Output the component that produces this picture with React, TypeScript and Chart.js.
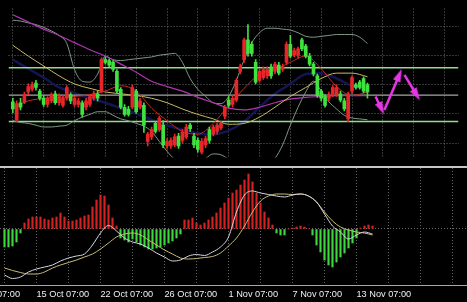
import React, { useEffect, useRef } from 'react';
import { Chart, registerables } from 'chart.js';

Chart.register(...registerables);

// ---------------- data (one candle per 4-px slot) ----------------
const candleOpen = [
  63, 43, 62, 63, 74, 77, 84, 75, 67, 60,
  64, 72, 62, 59, 67, 71, 60, 60, 62, 57,
  60, 67, 72, 75, 110, 109, 107, 97, 77, 57,
  55, 57, 75, 57, 59, 19, 24, 39, 32, 37,
  14, 14, 15, 25, 20, 24, 37, 25, 20, 7,
  15, 32, 27, 30, 34, 47, 65, 60, 65, 97,
  110, 132, 127, 107, 87, 90, 92, 102, 97, 104,
  99, 107, 127, 115, 115, 132, 125, 114, 105, 92,
  75, 69, 67, 72, 71, 72, 64, 44, 75, 82,
  85, 89, 82,
];
const candleHigh = [
  67, 64, 67, 74, 83, 85, 87, 77, 70, 69,
  73, 75, 72, 70, 81, 73, 69, 67, 64, 67,
  71, 75, 75, 112, 113, 111, 109, 99, 79, 60,
  58, 82, 77, 67, 62, 29, 35, 41, 47, 42,
  22, 23, 27, 28, 32, 38, 39, 28, 23, 22,
  25, 35, 37, 39, 41, 59, 69, 70, 89, 105,
  134, 149, 130, 110, 100, 102, 102, 105, 107, 107,
  105, 130, 137, 123, 124, 134, 127, 117, 107, 94,
  77, 71, 74, 81, 82, 75, 67, 74, 92, 84,
  87, 91, 84,
];
const candleLow = [
  51, 41, 54, 61, 71, 75, 76, 65, 58, 57,
  62, 60, 59, 57, 65, 61, 58, 57, 46, 54,
  58, 65, 64, 73, 105, 102, 97, 73, 55, 47,
  47, 55, 50, 55, 29, 14, 21, 28, 30, 12,
  11, 11, 13, 11, 17, 22, 30, 12, 7, 5,
  12, 17, 25, 27, 32, 44, 57, 57, 63, 94,
  107, 114, 114, 83, 85, 88, 89, 89, 94, 93,
  97, 105, 112, 113, 112, 120, 112, 103, 92, 68,
  64, 57, 64, 69, 69, 63, 53, 41, 72, 77,
  77, 73, 67,
];
const candleClose = [
  55, 61, 57, 71, 80, 82, 79, 67, 60, 67,
  71, 62, 69, 67, 79, 64, 67, 64, 49, 64,
  69, 72, 67, 110, 107, 104, 99, 75, 57, 49,
  49, 79, 52, 64, 37, 27, 32, 30, 45, 15,
  19, 20, 24, 14, 29, 35, 33, 15, 10, 19,
  22, 20, 35, 37, 39, 57, 59, 67, 87, 102,
  132, 117, 117, 85, 97, 99, 99, 92, 105, 95,
  102, 127, 114, 120, 122, 122, 114, 105, 94, 70,
  67, 59, 71, 79, 79, 65, 55, 72, 90, 79,
  79, 75, 74,
];

// Bollinger bands, sampled every 2 slots
const bandStep = 2;
const bandUpper = [
  154, 153, 151, 149, 146, 142, 137, 128, 99, 86, 85, 94, 114, 110, 109, 110,
  111, 112, 113, 115, 116, 117, 107, 89, 77, 69, 62, 61, 69, 87, 110, 129,
  140, 145, 145, 144, 143, 140, 136, 135, 136, 137, 138, 138, 138, 135, 128,
];
const bandLower = [
  42, 40, 39, 37, 35, 35, 36, 37, 42, 46, 49, 52, 52, 48, 44, 42,
  39, 36, 30, 19, 8, -1, -5, -6, -5, 0, 5, 4, -1, -7, -11, -13,
  -12, -8, 0, 15, 37, 57, 74, 86, 75, 63, 55, 48, 45, 44, 43,
];

// Moving averages, sampled every 4 slots
const maStep = 4;
const maMagenta = [160, 152, 144, 137, 129, 121, 114, 105, 96, 86, 80, 75, 68, 62, 56, 54, 57, 62, 66, 68, 69, 70, 70, 70];
const maYellow = [126, 114, 103, 92, 83, 78, 74, 72, 70, 67, 62, 55, 49, 44, 38, 39, 46, 57, 69, 79, 89, 95, 95, 91];
const maRed = [57, 64, 67, 68, 69, 71, 75, 81, 75, 56, 42, 30, 27, 39, 59, 78, 94, 99, 107, 114, 100, 80, 70, 74];
const maBlue = [110, 100, 90, 79, 73, 67, 62, 56, 50, 43, 37, 32, 28, 27, 31, 41, 57, 72, 83, 94, 95, 89, 81, 77];

// Horizontal levels
const greenLevels = [101, 41];
const bidLevel = 70.5;
const priceGridLevels = [17, 49.5, 82, 114.5, 147];

// Forecast arrows [slotFrom, priceFrom, slotTo, priceTo]
const arrowPaths = [
  [94.1, 69, 95.6, 55.5],
  [96.4, 54, 100.25, 93],
  [101.6, 93, 104.75, 70.7],
];

// Oscillator pane
const histogram = [
  -18, -18, -17, -13, -4,
  6, 10, 12, 12, 12, 10, 9, 11, 12, 16, 12, 8, 8, 9, 11, 13, 14, 22, 29, 34, 33, 24, 11, 3,
  -9, -11, -13, -10, -13, -16, -18, -20, -20, -19, -18, -16, -14, -12, -9, -5,
  9, 9, 11, 6, 4, 6, 9, 12, 16, 21, 26, 31, 36, 39, 44, 49, 55, 47, 36, 26, 17, 11, 4,
  -4, -6, -6, 0, 1, 2, 3, 2, 0,
  -6, -16, -23, -31, -36, -38, -33, -28, -24, -19, -14, -9,
  1, 3, 4, 3,
];
const macdStep = 2;
const macdWhite = [
  -46, -49.5, -48, -43, -40, -38, -36, -32, -29, -27, -25, -16, -4, 3.5, -2, -9,
  -13, -15, -19, -24, -28, -32, -31, -27, -25.5, -26.5, -23, -18, -8, 17, 34, 38,
  36, 34.5, 33, 32, 34, 35, 33, 27, 15, 3, -3, -10, -6, -3, -5,
];
const macdYellow = [
  -39, -41.5, -43.5, -45, -45, -43, -39, -36, -33.5, -31, -28, -25, -20, -14, -8, -5,
  -4, -6, -11, -16, -21, -25, -29, -30, -29.5, -28.5, -27.5, -24, -17, -9, 3, 17,
  28, 33, 35, 35, 34.5, 35, 33, 27, 17, 8, 2, -1, -3, -4, -6,
];

// Time axis
const gridSlots = [0, 8, 16, 24, 32, 40, 48, 56, 64, 72, 80, 88, 96, 104, 112];
const axisLabelSlots = [-8, 8, 24, 40, 56, 72, 88];
const axisLabels = ['9 Oct 07:00', '15 Oct 07:00', '22 Oct 07:00', '26 Oct 07:00', '1 Nov 07:00', '7 Nov 07:00', '13 Nov 07:00'];

// ---------------- layout / style ----------------
const W = 467;
const X_MIN = -1.125;
const X_MAX = X_MIN + W / 4;
const GRID = '#6a6a6a';
const UP = '#e8262a';
const DOWN = '#3fe23f';

const series = (vals: number[], step: number) => vals.map((v, k) => ({ x: k * step, y: v }));

const lineDs = (data: any[], color: string, width: number, order: number) => ({
  type: 'line',
  data,
  borderColor: color,
  borderWidth: width,
  pointRadius: 0,
  fill: false,
  cubicInterpolationMode: 'monotone',
  order,
});

const levelDs = (v: number, color: string, width: number, order: number) =>
  lineDs([{ x: X_MIN, y: v }, { x: X_MAX, y: v }], color, width, order);

function makeArrowHead() {
  const c = document.createElement('canvas');
  c.width = 8;
  c.height = 13;
  const g = c.getContext('2d')!;
  g.fillStyle = '#e834e8';
  g.beginPath();
  g.moveTo(4, 0);
  g.lineTo(8, 13);
  g.lineTo(0, 13);
  g.closePath();
  g.fill();
  return c;
}

const baseX = (extra: any) => ({
  type: 'linear',
  min: X_MIN,
  max: X_MAX,
  offset: false,
  afterBuildTicks: (s: any) => {
    s.ticks = extra.ticks.map((v: number) => ({ value: v }));
  },
  grid: { color: GRID, lineWidth: 1, drawTicks: false, offset: false },
  ...extra.opts,
});

export default function App() {
  const upperRef = useRef<HTMLCanvasElement>(null);
  const lowerRef = useRef<HTMLCanvasElement>(null);

  useEffect(() => {
    const head = makeArrowHead();
    const candleColors = candleOpen.map((o, i) => (candleClose[i] >= o ? UP : DOWN));

    const arrowDatasets = arrowPaths.map(([x0, y0, x1, y1]) => ({
      type: 'line',
      data: [{ x: x0, y: y0 }, { x: x1, y: y1 }],
      borderColor: '#e834e8',
      borderWidth: 2.5,
      pointRadius: [0, 6],
      pointStyle: head,
      pointRotation: (c: any) => {
        if (c.dataIndex === 0) return 0;
        const d = c.dataset.data;
        const xs = c.chart.scales.x;
        const ys = c.chart.scales.y;
        const dx = xs.getPixelForValue(d[1].x) - xs.getPixelForValue(d[0].x);
        const dy = ys.getPixelForValue(d[1].y) - ys.getPixelForValue(d[0].y);
        return (Math.atan2(dx, -dy) * 180) / Math.PI;
      },
      order: 0,
    }));

    const upper = new Chart(upperRef.current!, {
      type: 'bar',
      data: {
        datasets: [
          ...arrowDatasets,
          {
            type: 'bar',
            data: candleOpen.map((o, i) => ({ x: i, y: [o, candleClose[i]] })),
            backgroundColor: candleColors,
            borderWidth: 0,
            barThickness: 3,
            minBarLength: 1,
            grouped: false,
            order: 1,
          },
          {
            type: 'bar',
            data: candleLow.map((l, i) => ({ x: i, y: [l, candleHigh[i]] })),
            backgroundColor: candleColors,
            borderWidth: 0,
            barThickness: 1,
            grouped: false,
            order: 2,
          },
          lineDs(series(maRed, maStep), '#c8281e', 1, 3),
          lineDs(series(maYellow, maStep), '#c9b864', 1, 3),
          lineDs(series(maMagenta, maStep), '#b235b2', 1.2, 3),
          lineDs(series(bandUpper, bandStep), '#7d9886', 1, 4),
          lineDs(series(bandLower, bandStep), '#7d9886', 1, 4),
          ...greenLevels.map((v) => levelDs(v, '#8ee08e', 1.5, 5)),
          levelDs(bidLevel, '#a6a6a6', 1.3, 5),
          lineDs(series(maBlue, maStep), 'rgba(22,22,92,0.9)', 2.5, 6),
        ] as any,
      },
      options: {
        responsive: false,
        animation: false,
        devicePixelRatio: 1,
        events: [],
        layout: { padding: 0 },
        plugins: { legend: { display: false }, tooltip: { enabled: false } },
        scales: {
          x: baseX({
            ticks: gridSlots,
            opts: {
              afterFit: (s: any) => {
                s.height = 0;
                s.paddingLeft = 0;
                s.paddingRight = 0;
              },
              ticks: { display: false },
              border: { display: false, dash: [1, 2] },
            },
          }),
          y: {
            type: 'linear',
            position: 'right',
            min: 1,
            max: 167,
            afterBuildTicks: (s: any) => {
              s.ticks = priceGridLevels.map((v) => ({ value: v }));
            },
            afterFit: (s: any) => {
              s.width = 0;
            },
            ticks: { display: false },
            grid: { color: GRID, lineWidth: 1, drawTicks: false },
            border: { display: false, dash: [1, 2] },
          },
        },
      } as any,
    });

    const lower = new Chart(lowerRef.current!, {
      type: 'bar',
      data: {
        datasets: [
          lineDs(series(macdWhite, macdStep), '#d6d6e4', 1, 0),
          lineDs(series(macdYellow, macdStep), '#c8bd72', 1, 1),
          {
            type: 'bar',
            data: histogram.map((v, i) => ({ x: i, y: v })),
            backgroundColor: histogram.map((v) => (v >= 0 ? '#d42222' : '#3ed83e')),
            borderWidth: 0,
            barThickness: 1.5,
            grouped: false,
            order: 2,
          },
        ] as any,
      },
      options: {
        responsive: false,
        animation: false,
        devicePixelRatio: 1,
        events: [],
        layout: { padding: 0 },
        plugins: { legend: { display: false }, tooltip: { enabled: false } },
        scales: {
          x: baseX({
            ticks: [-8, ...gridSlots],
            opts: {
              position: 'bottom',
              afterFit: (s: any) => {
                s.height = 17;
                s.paddingLeft = 0;
                s.paddingRight = 0;
              },
              ticks: {
                autoSkip: false,
                maxRotation: 0,
                minRotation: 0,
                align: 'start',
                padding: 4,
                color: '#f0f0f0',
                font: { family: "'Liberation Sans', Arial, sans-serif", size: 9.2 },
                callback: (v: number) => {
                  const k = axisLabelSlots.indexOf(v);
                  return k >= 0 ? axisLabels[k] : '';
                },
              },
              border: { display: true, color: '#a8a8a8', width: 1, dash: [1, 2] },
            },
          }),
          y: {
            type: 'linear',
            position: 'right',
            min: -56,
            max: 61,
            afterBuildTicks: (s: any) => {
              s.ticks = [{ value: 0 }];
            },
            afterFit: (s: any) => {
              s.width = 0;
            },
            ticks: { display: false },
            grid: { color: GRID, lineWidth: 1, drawTicks: false },
            border: { display: false, dash: [1, 2] },
          },
        },
      } as any,
    });

    return () => {
      upper.destroy();
      lower.destroy();
    };
  }, []);

  return (
    <div
      style={{
        position: 'fixed',
        left: 0,
        top: 0,
        width: W,
        height: 302,
        background: '#000',
        overflow: 'hidden',
      }}
    >
      <canvas ref={upperRef} width={W} height={166} style={{ position: 'absolute', left: 0, top: 0 }} />
      <div style={{ position: 'absolute', left: 0, top: 166, width: W, height: 2, background: '#c6c6c6' }} />
      <canvas ref={lowerRef} width={W} height={134} style={{ position: 'absolute', left: 0, top: 168 }} />
    </div>
  );
}
